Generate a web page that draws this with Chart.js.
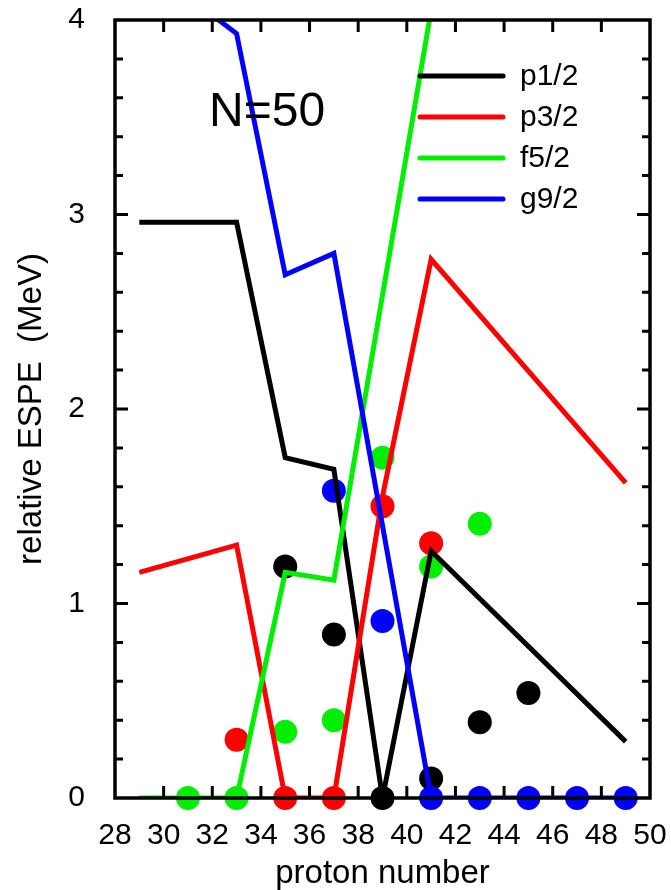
<!DOCTYPE html>
<html>
<head>
<meta charset="utf-8">
<script src="https://cdn.jsdelivr.net/npm/chart.js@4.4.1/dist/chart.umd.min.js"></script>
<style>
  html, body { margin: 0; padding: 0; background: #ffffff; }
  #wrap { width: 671px; height: 890px; }
</style>
</head>
<body>
<div id="wrap"><canvas id="c" width="671" height="890"></canvas></div>
<script>
// ---- data ----
const seriesLabels = ['p1/2', 'p3/2', 'f5/2', 'g9/2'];
const seriesColors = ['#000000', '#ff0000', '#00ee00', '#0000ff'];

// calculated ESPE lines (proton number, energy in MeV)
const p12LineZ = [29, 33, 35, 37, 39, 41, 49];
const p12LineE = [2.96, 2.96, 1.75, 1.69, 0.00, 1.27, 0.29];
const p32LineZ = [29, 33, 35, 37, 39, 41, 49];
const p32LineE = [1.16, 1.30, 0.00, 0.00, 1.55, 2.77, 1.62];
const f52LineZ = [29, 31, 33, 35, 37, 41];
const f52LineE = [0.00, 0.00, 0.00, 1.16, 1.12, 4.05];
const g92LineZ = [31, 33, 35, 37, 41, 43, 45, 47, 49];
const g92LineE = [4.12, 3.93, 2.69, 2.80, 0.00, 0.00, 0.00, 0.00, 0.00];

// experimental / reference points (dots)
const p12DotZ = [35, 37, 39, 41, 43, 45];
const p12DotE = [1.19, 0.84, 0.00, 0.10, 0.39, 0.54];
const p32DotZ = [33, 35, 37, 39, 41];
const p32DotE = [0.30, 0.00, 0.00, 1.50, 1.31];
const f52DotZ = [31, 33, 35, 37, 39, 41, 43];
const f52DotE = [0.00, 0.00, 0.34, 0.40, 1.75, 1.19, 1.41];
const g92DotZ = [37, 39, 41, 43, 45, 47, 49];
const g92DotE = [1.58, 0.91, 0.00, 0.00, 0.00, 0.00, 0.00];

const xMin = 28, xMax = 50, xStep = 2;
const yMin = 0, yMax = 4, yStep = 0.2;
const xTitle = 'proton number';
const yTitle = 'relative ESPE  (MeV)';
const annotationText = 'N=50';

const FONT = "'Liberation Sans', Arial, Helvetica, sans-serif";

function pts(zs, es) { return zs.map((z, i) => ({ x: z, y: es[i] })); }

const lineSets = [[p12LineZ, p12LineE], [p32LineZ, p32LineE], [f52LineZ, f52LineE], [g92LineZ, g92LineE]];
const dotSets = [[p12DotZ, p12DotE], [p32DotZ, p32DotE], [f52DotZ, f52DotE], [g92DotZ, g92DotE]];

const datasets = [];
dotSets.forEach((s, i) => {
  datasets.push({
    label: seriesLabels[i] + ' dots',
    isDot: true,
    data: pts(s[0], s[1]),
    showLine: false,
    pointRadius: 12,
    pointHoverRadius: 12,
    pointBorderWidth: 0,
    pointBackgroundColor: seriesColors[i],
    backgroundColor: seriesColors[i],
    borderColor: seriesColors[i],
    clip: false,
    order: 8 - i
  });
});
lineSets.forEach((s, i) => {
  datasets.push({
    label: seriesLabels[i],
    isLine: true,
    data: pts(s[0], s[1]),
    showLine: true,
    borderColor: seriesColors[i],
    backgroundColor: seriesColors[i],
    borderWidth: 5,
    pointRadius: 0,
    tension: 0,
    borderJoinStyle: 'miter',
    order: 4 - i
  });
});

const framePlugin = {
  id: 'frame',
  afterDatasetsDraw(chart) {
    const ctx = chart.ctx;
    const a = chart.chartArea;
    const xs = chart.scales.x, ys = chart.scales.y;
    ctx.save();
    ctx.strokeStyle = '#000';
    ctx.lineCap = 'butt';
    // tick marks (inward)
    ctx.lineWidth = 3;
    xs.ticks.forEach(t => {
      const px = xs.getPixelForValue(t.value);
      if (px <= a.left + 2 || px >= a.right - 2) return;
      ctx.beginPath();
      ctx.moveTo(px, a.bottom); ctx.lineTo(px, a.bottom - 12);
      ctx.moveTo(px, a.top); ctx.lineTo(px, a.top + 12);
      ctx.stroke();
    });
    ys.ticks.forEach(t => {
      const py = ys.getPixelForValue(t.value);
      if (py <= a.top + 2 || py >= a.bottom - 2) return;
      const major = Math.abs(t.value - Math.round(t.value)) < 1e-6;
      const len = major ? 13 : 8;
      ctx.beginPath();
      ctx.moveTo(a.left, py); ctx.lineTo(a.left + len, py);
      ctx.moveTo(a.right, py); ctx.lineTo(a.right - len, py);
      ctx.stroke();
    });
    // frame
    ctx.lineWidth = 3.5;
    ctx.strokeRect(a.left, a.top, a.right - a.left, a.bottom - a.top);

    // legend (inside plot)
    const lx0 = 420, lx1 = 503, ly0 = 76, ldy = 41;
    ctx.font = '30px ' + FONT;
    ctx.textBaseline = 'middle';
    ctx.textAlign = 'left';
    let row = 0;
    chart.data.datasets.forEach(ds => {
      if (!ds.isLine) return;
      const y = ly0 + row * ldy;
      ctx.strokeStyle = ds.borderColor;
      ctx.lineWidth = 5;
      ctx.lineCap = 'round';
      ctx.beginPath(); ctx.moveTo(lx0, y); ctx.lineTo(lx1, y); ctx.stroke();
      ctx.fillStyle = '#000';
      ctx.fillText(ds.label, 520, y + 1);
      row++;
    });

    // annotation
    ctx.font = '48px ' + FONT;
    ctx.textBaseline = 'alphabetic';
    ctx.fillStyle = '#000';
    ctx.fillText(annotationText, 209, 126);
    ctx.restore();
  }
};

new Chart(document.getElementById('c'), {
  type: 'scatter',
  data: { datasets },
  options: {
    responsive: false,
    animation: false,
    devicePixelRatio: 1,
    layout: { padding: { left: 0, top: 20, right: 21, bottom: 0 } },
    plugins: { legend: { display: false }, tooltip: { enabled: false } },
    scales: {
      x: {
        type: 'linear',
        min: xMin, max: xMax,
        afterFit(s) { s.height = 92; s.paddingLeft = 0; s.paddingRight = 0; },
        grid: { display: false },
        border: { display: false },
        ticks: {
          stepSize: xStep, autoSkip: false, maxRotation: 0,
          padding: 12, color: '#000',
          font: { family: FONT, size: 30 }
        },
        title: {
          display: true, text: xTitle, color: '#000',
          font: { family: FONT, size: 33, lineHeight: 1 },
          padding: { top: 0, bottom: 0 }
        }
      },
      y: {
        type: 'linear',
        min: yMin, max: yMax,
        afterFit(s) { s.width = 115; s.paddingTop = 0; s.paddingBottom = 0; },
        grid: { display: false },
        border: { display: false },
        ticks: {
          stepSize: yStep, autoSkip: false,
          padding: 22, color: '#000',
          font: { family: FONT, size: 30 },
          callback(v) {
            const r = Math.round(v);
            return Math.abs(v - r) < 1e-6 ? String(r) : '';
          }
        },
        title: {
          display: true, text: yTitle, color: '#000',
          font: { family: FONT, size: 33, lineHeight: 1 },
          padding: { top: 15, bottom: 0 }
        }
      }
    }
  },
  plugins: [framePlugin]
});
</script>
</body>
</html>
